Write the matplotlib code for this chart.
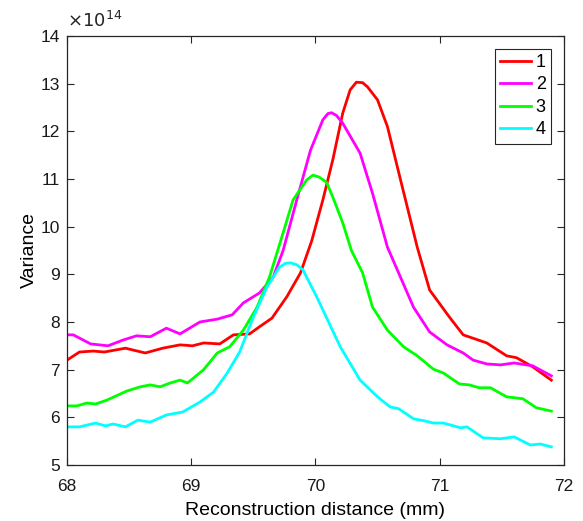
import matplotlib.pyplot as plt
import numpy as np
from matplotlib.ticker import FuncFormatter

plt.rcParams["font.family"] = ["Liberation Sans", "DejaVu Sans"]

# values, variance in units of 1e14
x1 = [68.0, 68.1, 68.21, 68.3, 68.47, 68.63, 68.77, 68.91, 69.01, 69.1, 69.23, 69.34,
      69.47, 69.55, 69.65, 69.77, 69.88, 69.97, 70.06, 70.14, 70.22, 70.28, 70.33,
      70.38, 70.42, 70.5, 70.58, 70.68, 70.76, 70.82, 70.92, 71.08, 71.19, 71.38, 71.54,
      71.62, 71.75, 71.9]
v1 = [7.2, 7.37, 7.39, 7.37, 7.45, 7.35, 7.45, 7.52, 7.5, 7.56, 7.54, 7.73,
      7.75, 7.9, 8.08, 8.53, 9.03, 9.7, 10.56, 11.4, 12.38, 12.87, 13.03,
      13.02, 12.93, 12.66, 12.1, 11.04, 10.2, 9.57, 8.67, 8.1, 7.73, 7.56, 7.29,
      7.25, 7.06, 6.78]

x2 = [68.0, 68.05, 68.19, 68.33, 68.45, 68.56, 68.67, 68.8, 68.91, 69.07, 69.21, 69.33,
      69.42, 69.55, 69.66, 69.74, 69.85, 69.96, 70.06, 70.1, 70.13, 70.17, 70.22, 70.36, 70.46,
      70.58, 70.66, 70.79, 70.92, 71.06, 71.19, 71.27, 71.38, 71.49, 71.6, 71.75, 71.9]
v2 = [7.73, 7.73, 7.54, 7.5, 7.62, 7.71, 7.69, 7.87, 7.75, 8.0, 8.06, 8.15,
      8.4, 8.61, 8.94, 9.5, 10.56, 11.6, 12.24, 12.37, 12.39, 12.33, 12.17, 11.54, 10.7,
      9.57, 9.09, 8.31, 7.79, 7.52, 7.35, 7.2, 7.12, 7.1, 7.14, 7.08, 6.87]

x3 = [68.0, 68.08, 68.16, 68.23, 68.32, 68.48, 68.59, 68.67, 68.75, 68.83, 68.91, 68.97,
      69.1, 69.21, 69.31, 69.42, 69.53, 69.63, 69.72, 69.82, 69.93, 69.98, 70.03, 70.09,
      70.14, 70.22, 70.29, 70.38, 70.46, 70.58, 70.71, 70.82, 70.95, 71.03, 71.16,
      71.24, 71.32, 71.41, 71.54, 71.67, 71.78, 71.9]
v3 = [6.24, 6.24, 6.3, 6.28, 6.36, 6.55, 6.64, 6.68, 6.64, 6.72, 6.78, 6.72,
      7.0, 7.35, 7.48, 7.83, 8.31, 8.94, 9.7, 10.56, 10.98, 11.08, 11.04, 10.93,
      10.62, 10.08, 9.5, 9.03, 8.31, 7.83, 7.48, 7.29, 7.01, 6.93, 6.7,
      6.68, 6.62, 6.62, 6.43, 6.39, 6.2, 6.13]

x4 = [68.0, 68.1, 68.23, 68.31, 68.37, 68.47, 68.57, 68.67, 68.8, 68.93, 69.07, 69.18,
      69.29, 69.39, 69.5, 69.61, 69.71, 69.76, 69.8, 69.85, 69.9, 70.01, 70.2, 70.36, 70.5, 70.6,
      70.67, 70.79, 70.87, 70.95, 71.03, 71.17, 71.22, 71.35, 71.49, 71.6, 71.73,
      71.81, 71.9]
v4 = [5.8, 5.8, 5.88, 5.82, 5.86, 5.8, 5.94, 5.9, 6.05, 6.11, 6.32, 6.53,
      6.93, 7.37, 8.1, 8.73, 9.15, 9.23, 9.24, 9.2, 9.09, 8.53, 7.48, 6.78, 6.43, 6.22,
      6.18, 5.97, 5.93, 5.88, 5.88, 5.78, 5.8, 5.57, 5.55, 5.59, 5.42,
      5.44, 5.38]

labels = ["1", "2", "3", "4"]
colors = ["#ff0000", "#ff00ff", "#00ff00", "#00ffff"]
scale = 1e14

fig = plt.figure(figsize=(5.83, 5.21), dpi=100)
ax = fig.add_axes([0.115, 0.1075, 0.852, 0.8235])

for xs, vs, lab, col in zip([x1, x2, x3, x4], [v1, v2, v3, v4], labels, colors):
    ax.plot(xs, np.array(vs) * scale, color=col, lw=2.0, label=lab, solid_joinstyle="round")

ax.set_xlim(68, 72)
ax.set_ylim(5 * scale, 14 * scale)
ax.set_xticks(np.arange(68, 73, 1))
ax.set_yticks(np.arange(5, 15, 1) * scale)
ax.yaxis.set_major_formatter(FuncFormatter(lambda v, p: f"{v / scale:g}"))
ax.text(0.0, 1.012, r"$\times10^{14}$", transform=ax.transAxes, fontsize=13,
        ha="left", va="bottom", color="#262626")

ax.tick_params(direction="in", top=True, right=True, labelsize=12.5, length=5, width=0.8,
               colors="#262626", labelcolor="#1a1a1a")
ax.tick_params(axis="x", pad=10)
ax.tick_params(axis="y", pad=5)
for s in ax.spines.values():
    s.set_linewidth(0.9)
    s.set_color("#262626")

ax.set_xlabel("Reconstruction distance (mm)", fontsize=14, labelpad=6)
ax.set_ylabel("Variance", fontsize=14, labelpad=2)

leg = ax.legend(loc="upper right", fontsize=13, fancybox=False, edgecolor="#262626",
                framealpha=1, handlelength=1.7, handletextpad=0.25, borderpad=0.3,
                labelspacing=0.3, borderaxespad=0.7)
leg.get_frame().set_linewidth(0.8)

fig.savefig("out.png", dpi=100)
